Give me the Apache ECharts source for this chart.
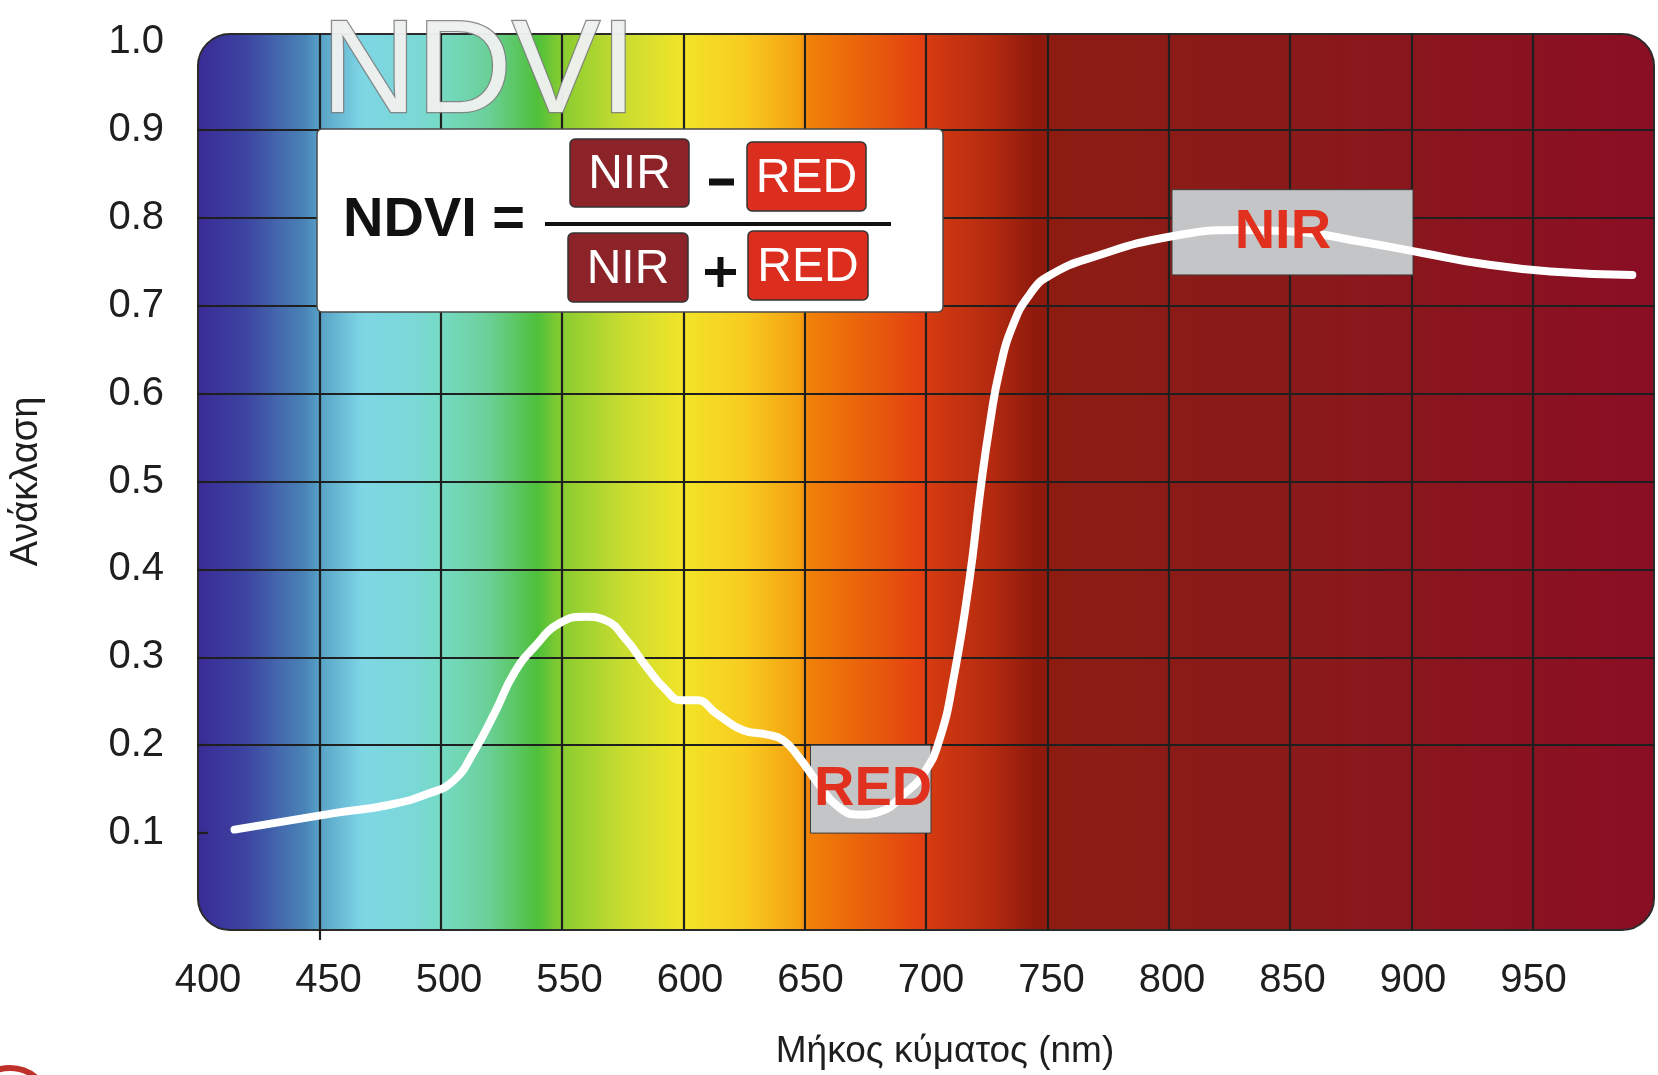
<!DOCTYPE html>
<html>
<head>
<meta charset="utf-8">
<script src="https://cdn.jsdelivr.net/npm/echarts@6/dist/echarts.min.js"></script>
<style>html,body{margin:0;padding:0;background:#fff;}#c{width:1658px;height:1075px;}</style>
</head>
<body>
<div id="c"></div>
<script>
// ---- data ----
const wavelengths = [411, 453, 475, 491.5, 502, 510, 519, 527, 535.5, 546, 556.5, 565, 573.5, 582, 590, 596.5, 603, 611, 622, 632, 638.5, 645, 653, 661.5, 670, 678.5, 689, 697, 703.5, 709.5, 716, 720.5, 724.5, 728.5, 734, 741, 749, 768, 800, 828, 852, 878, 904, 928, 957, 991];
const reflectance = [0.104, 0.123, 0.132, 0.145, 0.160, 0.191, 0.237, 0.282, 0.312, 0.339, 0.346, 0.342, 0.320, 0.289, 0.263, 0.251, 0.251, 0.236, 0.217, 0.212, 0.206, 0.187, 0.157, 0.130, 0.121, 0.124, 0.145, 0.168, 0.206, 0.278, 0.389, 0.49, 0.567, 0.627, 0.678, 0.713, 0.734, 0.756, 0.779, 0.786, 0.784, 0.773, 0.760, 0.748, 0.739, 0.735];
const bandNames = ['RED', 'NIR'];
const bandXRange = [[650, 700], [800, 900]];
const bandYRange = [[0.1, 0.2], [0.735, 0.832]];
const bandLabelX = [676, 846];
const bandLabelY = [0.150, 0.783];
const xTickValues = [400, 450, 500, 550, 600, 650, 700, 750, 800, 850, 900, 950];
const yTickValues = [0.1, 0.2, 0.3, 0.4, 0.5, 0.6, 0.7, 0.8, 0.9, 1.0];
const xName = 'Μήκος κύματος (nm)';
const yName = 'Ανάκλαση';
const titleText = 'NDVI';

// ---- styles ----
const FONT = 'Liberation Sans, Arial, sans-serif';
const GRID_COLOR = '#1f1f1f';
const spectrumStops = [
  [0, '#3a2a96'], [0.0333, '#3c44a0'], [0.075, '#4a86b8'], [0.0833, '#56a0c6'],
  [0.1133, '#7ed6e4'], [0.15, '#7ad8d6'], [0.1667, '#76dac4'], [0.2, '#6ad098'],
  [0.2333, '#4ec03a'], [0.25, '#88cc30'], [0.2917, '#c8dc30'], [0.3333, '#f2e428'],
  [0.375, '#f8cc20'], [0.4133, '#f4a010'], [0.42, '#f08008'], [0.4667, '#e85a0c'],
  [0.5, '#e23c12'], [0.5033, '#d43a10'], [0.545, '#b42a10'], [0.575, '#8e1a0c'],
  [0.6, '#8c1c14'], [0.75, '#8a1a1a'], [1, '#8a0e24']
];

const chart = echarts.init(document.getElementById('c'), null, {renderer: 'canvas'});

const lineData = wavelengths.map((w, i) => [w, reflectance[i]]);
const labelData = bandNames.map((n, i) => [bandLabelX[i], bandLabelY[i], n]);
const areaData = bandNames.map((n, i) => [
  {xAxis: bandXRange[i][0], yAxis: bandYRange[i][0]},
  {xAxis: bandXRange[i][1], yAxis: bandYRange[i][1]}
]);

// hide the split lines that fall on the outer edges
const ySplitColors = [];
for (let i = 0; i <= 10; i++) ySplitColors.push(i === 0 || i === 10 ? 'rgba(0,0,0,0)' : GRID_COLOR);
const xSplitColors = [];
for (let i = 0; i <= 12; i++) xSplitColors.push(i === 0 || i === 12 ? 'rgba(0,0,0,0)' : GRID_COLOR);

const option = {
  backgroundColor: '#ffffff',
  animation: false,
  grid: [
    {left: 198, right: 4, top: 42, bottom: 154},
    {left: 198, right: 4, top: 34, bottom: 145}
  ],
  xAxis: [
    {
      gridIndex: 0, type: 'value', min: 400, max: 1000, interval: 50, z: 1,
      axisLine: {show: false}, axisTick: {show: false}, splitLine: {show: false},
      axisLabel: {
        margin: 40, fontSize: 40, color: '#1e1e1e', fontFamily: FONT,
        customValues: xTickValues,
        formatter: v => (xTickValues.indexOf(v) >= 0 ? String(v) : '')
      },
      name: xName, nameLocation: 'middle', nameGap: 112,
      nameTextStyle: {fontSize: 37, color: '#1e1e1e', fontFamily: FONT, padding: [0, 0, 0, 28]}
    },
    {
      gridIndex: 1, type: 'value', min: 400, max: 1000, interval: 50, z: 1,
      position: 'bottom',
      axisLine: {show: false}, axisLabel: {show: false}, axisTick: {show: false},
      splitLine: {show: true, lineStyle: {color: xSplitColors, width: 2.2}}
    },
    {
      gridIndex: 1, type: 'value', min: 400, max: 1000, z: 1,
      position: 'bottom', offset: 0,
      axisLine: {show: false}, axisLabel: {show: false}, splitLine: {show: false},
      axisTick: {show: true, customValues: [450], length: 10, inside: false, lineStyle: {color: GRID_COLOR, width: 2.2}}
    }
  ],
  yAxis: [
    {
      gridIndex: 0, type: 'value', min: 0, max: 1, interval: 0.1, z: 1,
      axisLine: {show: false},
      axisTick: {show: true, length: 11, lineStyle: {color: GRID_COLOR, width: 2.2},
        customValues: yTickValues.slice(0, 9)},
      splitLine: {show: true, lineStyle: {color: ySplitColors, width: 2.2}},
      axisLabel: {
        margin: 44, fontSize: 40, color: '#1e1e1e', fontFamily: FONT,
        customValues: yTickValues,
        formatter: v => (v > 0.05 ? v.toFixed(1) : '')
      },
      name: yName, nameLocation: 'middle', nameGap: 162, nameRotate: 90,
      nameTextStyle: {fontSize: 38, color: '#1e1e1e', fontFamily: FONT}
    },
    {
      gridIndex: 1, type: 'value', min: 0, max: 1, show: false,
      splitLine: {show: false}
    }
  ],
  series: [
    {
      type: 'custom', xAxisIndex: 1, yAxisIndex: 1, z: 0, silent: true,
      data: [[400, 0]],
      renderItem: function (params, api) {
        const cs = params.coordSys;
        return {
          type: 'rect',
          shape: {x: cs.x, y: cs.y, width: cs.width, height: cs.height, r: 32},
          style: {
            fill: new echarts.graphic.LinearGradient(0, 0, 1, 0,
              spectrumStops.map(s => ({offset: s[0], color: s[1]}))),
            stroke: '#2a2a2a', lineWidth: 2
          }
        };
      }
    },
    {
      type: 'line', xAxisIndex: 0, yAxisIndex: 0, z: 3,
      data: lineData, smooth: 0.5, showSymbol: false,
      lineStyle: {color: '#ffffff', width: 8, cap: 'round', join: 'round'},
      markArea: {
        silent: true,
        itemStyle: {color: '#c4c5c7', borderColor: '#3c3c3c', borderWidth: 1, opacity: 1},
        label: {show: false},
        data: areaData
      }
    },
    {
      type: 'scatter', xAxisIndex: 0, yAxisIndex: 0, z: 5,
      symbolSize: 0, data: labelData,
      itemStyle: {color: '#e2301f'},
      label: {
        show: true, position: 'inside', formatter: p => p.value[2],
        fontSize: 56, fontWeight: 'bold', color: '#e2301f', fontFamily: FONT,
        textBorderWidth: 0, textBorderColor: 'transparent', opacity: 1
      },
      emphasis: {disabled: true}
    }
  ],
  graphic: [
    // big title
    {
      type: 'text', z: 20, left: 320, top: 8,
      style: {
        text: titleText, font: '132px ' + FONT,
        fill: 'rgba(238,241,239,0.97)', stroke: 'rgba(125,127,126,0.9)', lineWidth: 2.5,
        shadowColor: 'rgba(0,0,0,0.35)', shadowBlur: 4, shadowOffsetX: 2, shadowOffsetY: 2
      }
    },
    // formula box
    {type: 'rect', z: 20, shape: {x: 317, y: 129, width: 626, height: 183, r: 5},
      style: {fill: '#ffffff', stroke: '#4a4a4a', lineWidth: 1.5}},
    {type: 'text', z: 21, x: 343, y: 221,
      style: {text: 'NDVI =', font: 'bold 56px ' + FONT, fill: '#111111', verticalAlign: 'middle'}},
    {type: 'line', z: 21, shape: {x1: 545, y1: 224, x2: 891, y2: 224}, style: {stroke: '#111111', lineWidth: 4}},
    {type: 'rect', z: 21, shape: {x: 570, y: 139, width: 119, height: 68, r: 5},
      style: {fill: '#8b2328', stroke: '#333333', lineWidth: 1.5}},
    {type: 'text', z: 22, x: 629.5, y: 175,
      style: {text: 'NIR', font: '48px ' + FONT, fill: '#ffffff', align: 'center', verticalAlign: 'middle'}},
    {type: 'rect', z: 21, shape: {x: 709, y: 178.5, width: 25, height: 7}, style: {fill: '#111111'}},
    {type: 'rect', z: 21, shape: {x: 747, y: 142, width: 119, height: 69, r: 5},
      style: {fill: '#dc2e1e', stroke: '#333333', lineWidth: 1.5}},
    {type: 'text', z: 22, x: 806.5, y: 178.5,
      style: {text: 'RED', font: '48px ' + FONT, fill: '#ffffff', align: 'center', verticalAlign: 'middle'}},
    {type: 'rect', z: 21, shape: {x: 568, y: 233, width: 120, height: 69, r: 5},
      style: {fill: '#8b2328', stroke: '#333333', lineWidth: 1.5}},
    {type: 'text', z: 22, x: 628, y: 269.5,
      style: {text: 'NIR', font: '48px ' + FONT, fill: '#ffffff', align: 'center', verticalAlign: 'middle'}},
    {type: 'rect', z: 21, shape: {x: 705, y: 269, width: 31, height: 6}, style: {fill: '#111111'}},
    {type: 'rect', z: 21, shape: {x: 717.5, y: 257, width: 6, height: 30}, style: {fill: '#111111'}},
    {type: 'rect', z: 21, shape: {x: 748, y: 231, width: 120, height: 69, r: 5},
      style: {fill: '#dc2e1e', stroke: '#333333', lineWidth: 1.5}},
    {type: 'text', z: 22, x: 808, y: 267.5,
      style: {text: 'RED', font: '48px ' + FONT, fill: '#ffffff', align: 'center', verticalAlign: 'middle'}},
    // corner logo fragment
    {type: 'circle', z: 20, shape: {cx: 10, cy: 1108, r: 40},
      style: {fill: 'none', stroke: '#c0302a', lineWidth: 6}}
  ]
};
chart.setOption(option);
</script>
</body>
</html>
